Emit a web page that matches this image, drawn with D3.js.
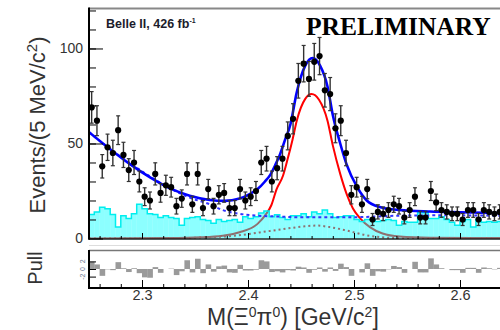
<!DOCTYPE html>
<html>
<head>
<meta charset="utf-8">
<script src="https://cdn.jsdelivr.net/npm/d3@7/dist/d3.min.js"></script>
<style>
body{margin:0;background:#fff;}
svg{display:block;font-family:"Liberation Sans",Arial,sans-serif;}
</style>
</head>
<body>
<div id="chart"></div>
<script>
// 5 MeV bins starting at 2.25 GeV
var binStart = 2.25, binWidth = 0.005;

var counts = [69,62,38,48,45,57,44,36,40,30, 22,20,34,24,28,27,17,21,34,18,
              34,16,26,17,23,24,16,16,26,20, 22,25,40,42,30,37,42,54,63,83,
              92,84,93,96,78,76,58,62,45,23, 27,18,26,10,14,13,15,18,17,11,
              15,22,11,11,25,19,15,14,13,13, 10,15,15,10,15,14,13,14];

// cyan MC histogram
var mcHist = [12.6,14,16.5,15.7,12.6,6,12,10.5,13,18, 15.7,13,12.6,11,12,11,10.5,7,10.5,11,
              11.5,10,9.5,8,10,9,9.5,10,8.5,11.5, 10.5,11.5,13.4,14.5,11.5,12.5,11,10,12,12,
              13,11.5,14,13,15,13,11,11.5,12,12, 10,9,10,10,9,9.5,10,9.5,7,9,
              8.5,8.5,13.5,13.5,10.5,10.5,11.5,10,8.5,7, 9,10,6,10,8.5,9,8.5,9];

var pulls = [1.9,1.2,-1.8,-0.1,-0.3,1.8,0.2,-0.8,0.2,-1.1, -2.2,-2.3,0.5,-1.0,0,0.1,-1.6,-0.6,2.3,-0.9,
             2.7,-1.1,1.2,-0.7,0.7,0.9,-0.9,-1.0,1.1,-0.4, -0.4,-0.2,2.3,2.0,-0.8,-0.6,-0.9,-0.3,-0.4,0.6,
             0.4,-1.0,-0.2,0.4,-0.7,0.4,-0.5,1.4,0.5,-1.8, 0,-0.9,1.5,-1.8,-0.6,-0.7,-0.1,0.8,0.5,-1.0,
             0,1.9,-0.9,-0.9,2.8,1.2,0.2,0,-0.3,-0.3, -1.0,0.3,0.3,-1.0,0.4,0.2,-0.1,0.3];

// fit curves [mass, events]
var fitTotal = [[2.250,56],[2.270,47],[2.289,39],[2.308,32],[2.326,26.5],[2.345,22.5],[2.364,20.3],
  [2.378,19.8],[2.392,21],[2.402,23.5],[2.409,26],[2.416,30],[2.421,33.5],[2.426,39],[2.430,44],
  [2.435,52],[2.440,60],[2.446,77],[2.454,91],[2.461,95],[2.468,91],[2.475,80],[2.480,65],
  [2.487,50],[2.493,39],[2.503,27],[2.512,20],[2.525,16.5],[2.543,15],[2.572,14.2],[2.600,13.8],
  [2.640,13.3],[2.700,13]];
var fitSignal = [[2.250,0],[2.326,0.2],[2.355,0.6],[2.376,1.5],[2.392,3.3],[2.409,7.7],[2.416,12],
  [2.422,17.5],[2.427,26],[2.433,33],[2.437,41],[2.442,52],[2.446,62],[2.454,73.5],[2.460,76],
  [2.467,73],[2.475,62],[2.480,49],[2.487,34],[2.493,23.5],[2.499,15.8],[2.506,10.5],[2.515,6],
  [2.527,2.6],[2.543,1],[2.572,0.4],[2.640,0.2],[2.700,0.1]];
var fitBkg = [[2.250,56],[2.270,47],[2.289,39.5],[2.308,32.5],[2.326,26.5],[2.345,21.5],[2.364,18],
  [2.376,15],[2.392,13],[2.409,12],[2.427,11.6],[2.447,11.2],[2.496,11.2],[2.543,12],[2.590,12.2],
  [2.640,12],[2.700,12]];
var fitPeaking = [[2.250,0],[2.326,0],[2.355,0.5],[2.390,1.6],[2.421,4],[2.440,5.5],[2.452,6.3],
  [2.465,6.8],[2.477,6],[2.493,4.2],[2.509,2],[2.525,0.7],[2.541,0.2],[2.572,0],[2.700,0]];

var xTicks = [2.3,2.4,2.5,2.6];
var yTicks = [0,50,100];
var pullTicks = [-2,0,2];

var W = 500, H = 330;
var plotL = 89, plotT = 8, plotB = 239, pullT = 250, pullB = 288;

var x = d3.scaleLinear().domain([2.25,2.70]).range([plotL, 566]);
var y = d3.scaleLinear().domain([0,121.3]).range([238.5, plotT]);
var yp = d3.scaleLinear().domain([-5,5]).range([pullB, pullT]);

var svg = d3.select("#chart").append("svg").attr("width",W).attr("height",H);
svg.append("rect").attr("width",W).attr("height",H).attr("fill","#fff");

svg.append("defs").append("clipPath").attr("id","clipMain")
  .append("rect").attr("x",plotL).attr("y",plotT).attr("width",W-plotL).attr("height",plotB-plotT);

var g = svg.append("g").attr("clip-path","url(#clipMain)");

var edge = function(i){ return x(binStart + i*binWidth); };
var center = function(i){ return x(binStart + (i+0.5)*binWidth); };

var line = d3.line().x(function(d){return x(d[0]);}).y(function(d){return y(d[1]);})
  .curve(d3.curveMonotoneX);

// red curves first, the cyan fill goes on top of them
g.append("path").datum(fitPeaking).attr("d",line)
  .attr("fill","none").attr("stroke","#ff0000").attr("stroke-width",2).attr("stroke-dasharray","2,3");
g.append("path").datum(fitSignal).attr("d",line)
  .attr("fill","none").attr("stroke","#ff0000").attr("stroke-width",2);

// cyan MC histogram
g.selectAll(".mc").data(mcHist).enter().append("rect")
  .attr("class","mc")
  .attr("x",function(d,i){return edge(i);})
  .attr("width",function(d,i){return edge(i+1)-edge(i);})
  .attr("y",function(d){return y(d);})
  .attr("height",function(d){return y(0)-y(d);})
  .attr("fill","#00ffff").attr("fill-opacity",0.45);

var stepPts = mcHist.map(function(d,i){return [binStart+i*binWidth, d];});
stepPts.push([binStart+mcHist.length*binWidth, mcHist[mcHist.length-1]]);
g.append("path").datum(stepPts)
  .attr("d", d3.line().x(function(d){return x(d[0]);}).y(function(d){return y(d[1]);}).curve(d3.curveStepAfter))
  .attr("fill","none").attr("stroke","#00eeee").attr("stroke-width",1.5);

// blue curves
g.append("path").datum(fitBkg).attr("d",line)
  .attr("fill","none").attr("stroke","#3333ff").attr("stroke-width",2).attr("stroke-dasharray","3,3");
g.append("path").datum(fitTotal).attr("d",line)
  .attr("fill","none").attr("stroke","#0000ff").attr("stroke-width",2.6);

// data points with poisson errors
var pts = g.selectAll(".pt").data(counts).enter().append("g").attr("class","pt");
pts.append("line")
  .attr("x1",function(d,i){return center(i);}).attr("x2",function(d,i){return center(i);})
  .attr("y1",function(d){return y(d+Math.sqrt(d));}).attr("y2",function(d){return y(d-Math.sqrt(d));})
  .attr("stroke","#333").attr("stroke-width",1.4);
[1,-1].forEach(function(s){
  pts.append("line")
    .attr("x1",function(d,i){return center(i)-2;}).attr("x2",function(d,i){return center(i)+2;})
    .attr("y1",function(d){return y(d+s*Math.sqrt(d));}).attr("y2",function(d){return y(d+s*Math.sqrt(d));})
    .attr("stroke","#333").attr("stroke-width",1.2);
});
pts.append("line")
  .attr("x1",function(d,i){return edge(i);}).attr("x2",function(d,i){return edge(i+1);})
  .attr("y1",function(d){return y(d);}).attr("y2",function(d){return y(d);})
  .attr("stroke","#111").attr("stroke-width",1.4);
pts.append("circle")
  .attr("cx",function(d,i){return center(i);}).attr("cy",function(d){return y(d);})
  .attr("r",3.1).attr("fill","#000");

// main frame and axes
svg.append("line").attr("x1",plotL).attr("x2",W).attr("y1",plotT+0.5).attr("y2",plotT+0.5)
  .attr("stroke","#888").attr("stroke-width",2);
svg.append("line").attr("x1",plotL).attr("x2",W).attr("y1",plotB).attr("y2",plotB)
  .attr("stroke","#1a2a2a").attr("stroke-width",1.6);
svg.append("line").attr("x1",plotL).attr("x2",W).attr("y1",245.5).attr("y2",245.5)
  .attr("stroke","#ddd").attr("stroke-width",1);

var yAxis = svg.append("g").attr("transform","translate("+plotL+",0)")
  .call(d3.axisLeft(y).tickValues(yTicks).tickSize(-14).tickPadding(6));
svg.append("g").attr("transform","translate("+plotL+",0)")
  .call(d3.axisLeft(y).tickValues(d3.range(10,121,10)).tickSize(-7).tickFormat(""));
svg.append("g").attr("transform","translate(0,"+plotB+")")
  .call(d3.axisBottom(x).tickValues(xTicks).tickSize(-6).tickFormat(""));
svg.append("g").attr("transform","translate(0,"+plotB+")")
  .call(d3.axisBottom(x).tickValues(d3.range(2.26,2.60,0.02)).tickSize(-3).tickFormat(""));
svg.selectAll(".domain").remove();
yAxis.selectAll("text").attr("font-size",14).attr("fill","#333")
  .attr("font-family","'Liberation Sans',Arial,sans-serif");
svg.append("line").attr("x1",plotL).attr("x2",plotL).attr("y1",plotT-0.5).attr("y2",plotB+0.8)
  .attr("stroke","#000").attr("stroke-width",2);

// pull panel
var gp = svg.append("g");
gp.selectAll(".pull").data(pulls).enter().append("rect")
  .attr("x",function(d,i){return edge(i);})
  .attr("width",function(d,i){return edge(i+1)-edge(i)+0.3;})
  .attr("y",function(d){return Math.min(yp(d),yp(0));})
  .attr("height",function(d){return Math.abs(yp(d)-yp(0));})
  .attr("fill","#9a9a9a");

gp.append("line").attr("x1",plotL).attr("x2",W).attr("y1",pullT+0.5).attr("y2",pullT+0.5)
  .attr("stroke","#777").attr("stroke-width",1.6);
gp.append("line").attr("x1",plotL).attr("x2",W).attr("y1",pullB).attr("y2",pullB)
  .attr("stroke","#000").attr("stroke-width",2);
gp.append("line").attr("x1",plotL).attr("x2",plotL).attr("y1",pullT).attr("y2",pullB+1)
  .attr("stroke","#000").attr("stroke-width",2);

var pxAxis = gp.append("g").attr("transform","translate(0,"+pullB+")")
  .call(d3.axisBottom(x).tickValues(xTicks).tickSize(-8).tickPadding(1.5).tickFormat(d3.format(".1f")));
gp.append("g").attr("transform","translate(0,"+pullB+")")
  .call(d3.axisBottom(x).tickValues(d3.range(2.26,2.60,0.02)).tickSize(-4).tickFormat(""));
gp.append("g").attr("transform","translate("+plotL+",0)")
  .call(d3.axisLeft(yp).tickValues(pullTicks).tickSize(-7).tickFormat(""));
gp.selectAll(".domain").remove();
pxAxis.selectAll("text").attr("font-size",14.5).attr("fill","#333")
  .attr("font-family","'Liberation Sans',Arial,sans-serif");

gp.selectAll(".pullLab").data(pullTicks).enter().append("text")
  .attr("transform",function(d){return "translate(85,"+yp(d)+") rotate(-90)";})
  .attr("text-anchor","middle").attr("font-size",7).attr("fill","#6a7894")
  .text(function(d){return d;});

// titles
var yt = svg.append("text").attr("transform","translate(45,125) rotate(-90)")
  .attr("text-anchor","middle").attr("font-size",22).attr("fill","#333");
yt.append("tspan").text("Events/(5 MeV/c");
yt.append("tspan").attr("dy",-8).attr("font-size",15).text("2");
yt.append("tspan").attr("dy",8).text(")");

svg.append("text").attr("transform","translate(42,268) rotate(-90)")
  .attr("text-anchor","middle").attr("font-size",20).attr("fill","#333").text("Pull");

var xt = svg.append("text").attr("x",207).attr("y",325).attr("font-size",23).attr("fill","#333");
xt.append("tspan").text("M(Ξ");
xt.append("tspan").attr("dy",-8).attr("font-size",14).text("0");
xt.append("tspan").attr("dy",8).text("π");
xt.append("tspan").attr("dy",-8).attr("font-size",14).text("0");
xt.append("tspan").attr("dy",8).text(") [GeV/c");
xt.append("tspan").attr("dy",-8).attr("font-size",14).text("2");
xt.append("tspan").attr("dy",8).text("]");

var lab = svg.append("text").attr("x",106).attr("y",28).attr("font-size",12.5)
  .attr("font-weight","bold").attr("fill","#1c1c2c");
lab.append("tspan").text("Belle II, 426 fb");
lab.append("tspan").attr("dy",-5).attr("font-size",7).text("-1");

svg.append("text").attr("x",306).attr("y",35)
  .attr("font-family","'Liberation Serif','Times New Roman',serif")
  .attr("font-weight","bold").attr("font-size",25.5).attr("fill","#000")
  .text("PRELIMINARY");
</script>
</body>
</html>
